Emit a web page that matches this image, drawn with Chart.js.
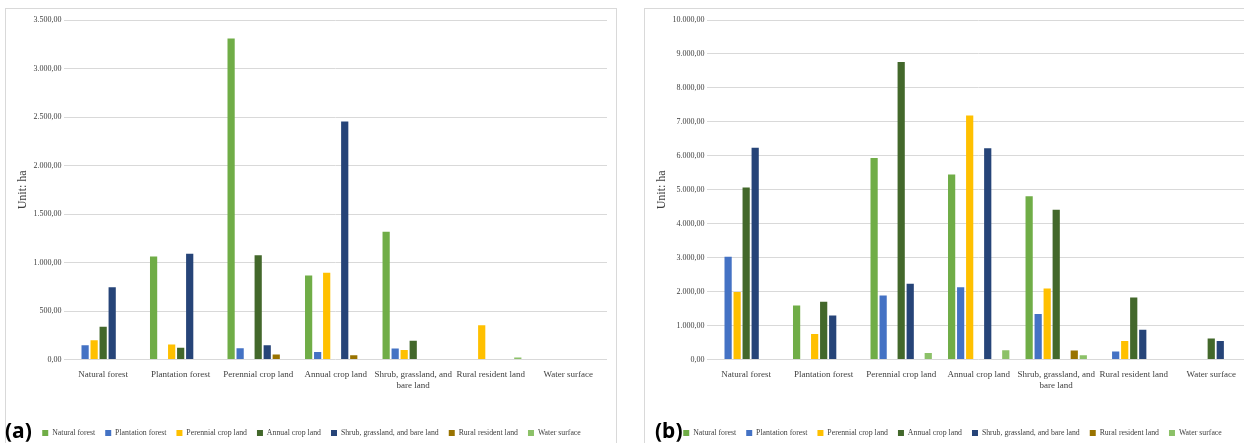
<!DOCTYPE html>
<html>
<head>
<meta charset="utf-8">
<script src="https://cdn.jsdelivr.net/npm/chart.js@4.4.1/dist/chart.umd.min.js"></script>
<style>
  body { margin: 0; width: 1244px; height: 443px; overflow: hidden; background: #fff; position: relative; }
  .panel { position: absolute; top: 8px; height: 445px; border: 1px solid #d9d9d9; box-sizing: border-box; }
  #pa { left: 5px; width: 612px; }
  #pb { left: 644px; width: 616px; }
  .panel .wrap { position: absolute; left: 0; top: 0; right: 0; height: 438px; }
  .tag { position: absolute; font-family: "Noto Sans", sans-serif; font-weight: bold; font-size: 21px; color: #000; }
</style>
</head>
<body>
<div class="panel" id="pa"><div class="wrap"><canvas id="chartA"></canvas></div></div>
<div class="panel" id="pb"><div class="wrap"><canvas id="chartB"></canvas></div></div>
<div class="tag" style="left:5px; top:416px;">(a)</div>
<div class="tag" style="left:655px; top:416px;">(b)</div>
<script>
// land use categories (x axis) and series (legend)
const categories = [
  "Natural forest",
  "Plantation forest",
  "Perennial crop land",
  "Annual crop land",
  ["Shrub, grassland, and", "bare land"],
  "Rural resident land",
  "Water surface",
];
const seriesNames = [
  "Natural forest",
  "Plantation forest",
  "Perennial crop land",
  "Annual crop land",
  "Shrub, grassland, and bare land",
  "Rural resident land",
  "Water surface",
];
const colors = ["#70AD47", "#4472C4", "#FFC000", "#43682B", "#264478", "#997300", "#8CC168"];

// (a) values, one array per series, in category order (ha)
const aNatural = [0, 1062, 3310, 868, 1317, 0, 0];
const aPlantation = [148, 0, 117, 79, 114, 0, 0];
const aPerennial = [200, 156, 0, 895, 98, 355, 0];
const aAnnual = [339, 123, 1076, 0, 193, 0, 0];
const aShrub = [745, 1090, 148, 2455, 0, 0, 0];
const aRural = [0, 0, 52, 45, 0, 0, 0];
const aWater = [0, 0, 0, 0, 0, 22, 0];

// (b) values
const bNatural = [0, 1590, 5940, 5450, 4810, 0, 0];
const bPlantation = [3030, 0, 1890, 2130, 1340, 240, 0];
const bPerennial = [1990, 755, 0, 7190, 2090, 550, 0];
const bAnnual = [5065, 1705, 8765, 0, 4415, 1830, 620];
const bShrub = [6235, 1295, 2235, 6220, 0, 880, 550];
const bRural = [0, 0, 0, 0, 265, 0, 0];
const bWater = [0, 0, 197, 275, 125, 0, 0];

const fmt = (v) => {
  let s = Math.round(v).toString().replace(/\B(?=(\d{3})+(?!\d))/g, ".");
  return s + ",00";
};

const serif = "'Liberation Serif', 'Times New Roman', serif";

function makeChart(id, rows, max, step) {
  const ctx = document.getElementById(id).getContext("2d");
  const datasets = rows.map((r, i) => ({
    label: seriesNames[i],
    data: r,
    backgroundColor: colors[i],
    borderWidth: 0,
    categoryPercentage: 0.815,
    barPercentage: 0.8,
  }));
  return new Chart(ctx, {
    type: "bar",
    data: { labels: categories, datasets },
    options: {
      responsive: true,
      maintainAspectRatio: false,
      animation: false,
      layout: { padding: { top: 11, right: 9, left: 10, bottom: 0 } },
      plugins: {
        legend: {
          position: "bottom",
          labels: {
            boxWidth: 6,
            boxHeight: 6,
            padding: 10,
            color: "#404040",
            font: { family: serif, size: 7.8 },
          },
        },
        tooltip: { enabled: false },
      },
      scales: {
        x: {
          grid: { display: false },
          border: { display: false },
          ticks: { color: "#404040", font: { family: serif, size: 9 }, maxRotation: 0, autoSkip: false, padding: 2 },
          afterFit: (axis) => { axis.height += 26; },
        },
        y: {
          min: 0,
          max: max,
          ticks: { stepSize: step, callback: fmt, color: "#404040", font: { family: serif, size: 8 }, padding: 3 },
          grid: { color: "#d9d9d9", drawTicks: false },
          border: { display: false },
          title: { display: true, text: "Unit: ha", color: "#404040", font: { family: serif, size: 12 }, padding: { top: 0, bottom: 0 } },
        },
      },
    },
  });
}

makeChart("chartA", [aNatural, aPlantation, aPerennial, aAnnual, aShrub, aRural, aWater], 3500, 500);
makeChart("chartB", [bNatural, bPlantation, bPerennial, bAnnual, bShrub, bRural, bWater], 10000, 1000);
</script>
</body>
</html>
